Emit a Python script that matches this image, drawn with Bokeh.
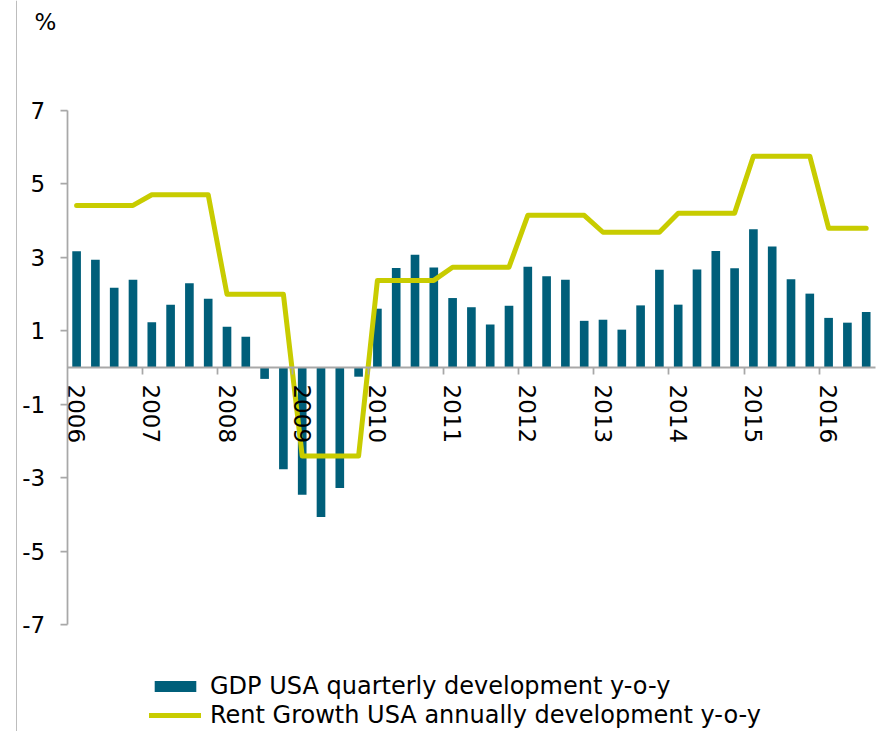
from bokeh.plotting import figure
from bokeh.models import (LinearAxis, FixedTicker, Span, Label, Range1d,
                          Legend, LegendItem, ColumnDataSource)
from bokeh.embed import file_html
from bokeh.resources import INLINE

# ---------------- data ----------------
years = ["2006", "2007", "2008", "2009", "2010", "2011",
         "2012", "2013", "2014", "2015", "2016"]

# GDP USA quarterly development y-o-y (%), 2006Q1 .. 2016Q3
gdp = [3.16, 2.93, 2.17, 2.39,
       1.23, 1.71, 2.29, 1.87,
       1.11, 0.84, -0.31, -2.77,
       -3.46, -4.07, -3.28, -0.25,
       1.60, 2.71, 3.07, 2.72,
       1.89, 1.64, 1.17, 1.68,
       2.74, 2.48, 2.39, 1.27,
       1.30, 1.03, 1.69, 2.66,
       1.71, 2.67, 3.17, 2.70,
       3.76, 3.29, 2.40, 2.01,
       1.35, 1.22, 1.51]

# Rent Growth USA annually development y-o-y (%), shown per quarter
rent = [4.41, 4.41, 4.41, 4.41,
        4.70, 4.70, 4.70, 4.70,
        1.99, 1.99, 1.99, 1.99,
        -2.41, -2.41, -2.41, -2.41,
        2.37, 2.37, 2.37, 2.37,
        2.73, 2.73, 2.73, 2.73,
        4.14, 4.14, 4.14, 4.14,
        3.68, 3.68, 3.68, 3.68,
        4.20, 4.20, 4.20, 4.20,
        5.75, 5.75, 5.75, 5.75,
        3.79, 3.79, 3.79]

y_ticks = [-7, -5, -3, -1, 1, 3, 5, 7]
y_tick_labels = ["-7", "-5", "-3", "-1", "1", "3", "5", "7"]

gdp_label = "GDP USA quarterly development y-o-y"
rent_label = "Rent Growth USA annually development y-o-y"

# ---------------- styling / layout ----------------
FONT = "DejaVu Sans"
TEAL = "#005F7A"
LIME = "#C8CC00"
GREY = "#A8A8A8"

W, H = 876, 731
X0, DX = 66.7, 18.8     # px position of first category boundary, px per category
Y0, DY = 367.0, 36.75   # px position of zero, px per unit

n = len(gdp)
xs = list(range(n))
src = ColumnDataSource(dict(x=xs, gdp=gdp, rent=rent))

def px_x(px):
    return (px - X0) / DX - 0.5

def px_y(py):
    return (Y0 - py) / DY

p = figure(width=W, height=H, output_backend="svg", toolbar_location=None,
           x_range=Range1d(px_x(0), px_x(W)),
           y_range=Range1d(px_y(H), px_y(0)),
           x_axis_type=None, y_axis_type=None, min_border=0,
           outline_line_color=None, background_fill_color="white",
           border_fill_color="white")

# left border line of the chart area
p.add_layout(Span(location=px_x(16), dimension="height",
                  line_color="#BDBDBD", line_width=1))

bars = p.vbar(x="x", top="gdp", bottom=0, width=0.46, source=src,
              fill_color=TEAL, line_color=None)
line = p.line(x="x", y="rent", source=src, line_color=LIME, line_width=5,
              line_join="round", line_cap="round")

# y axis
yaxis = LinearAxis(fixed_location=-0.5, ticker=FixedTicker(ticks=y_ticks),
                   major_label_overrides=dict(zip(y_ticks, y_tick_labels)),
                   bounds=(-7, 7),
                   axis_line_color=GREY, axis_line_width=1.75,
                   major_tick_line_color=GREY, major_tick_line_width=1.75,
                   major_tick_in=0, major_tick_out=7,
                   minor_tick_line_color=None,
                   major_label_text_font=FONT,
                   major_label_text_font_size="23px",
                   major_label_text_color="black",
                   major_label_standoff=15)
p.add_layout(yaxis, "left")

# x axis line + tick marks at year boundaries
xaxis = LinearAxis(fixed_location=0,
                   ticker=FixedTicker(ticks=[4 * k - 0.5 for k in range(1, len(years))]),
                   bounds=(-0.5, n - 0.5),
                   axis_line_color=GREY, axis_line_width=2,
                   major_tick_line_color=GREY, major_tick_line_width=1.75,
                   major_tick_in=0, major_tick_out=7,
                   minor_tick_line_color=None,
                   major_label_text_color=None,
                   major_label_text_font_size="1px")
p.add_layout(xaxis, "below")

# year labels at first quarter of each year
lab_axis = LinearAxis(fixed_location=0,
                      ticker=FixedTicker(ticks=[4 * k for k in range(len(years))]),
                      major_label_overrides={4 * k: y for k, y in enumerate(years)},
                      axis_line_color=None, major_tick_line_color=None,
                      major_tick_in=0, major_tick_out=0,
                      minor_tick_line_color=None,
                      major_label_orientation="vertical",
                      major_label_text_font=FONT,
                      major_label_text_font_size="23px",
                      major_label_text_color="black",
                      major_label_standoff=17)
p.add_layout(lab_axis, "below")

# unit label
p.add_layout(Label(x=px_x(34), y=px_y(21), text="%",
                   text_font=FONT, text_font_size="23px", text_color="black",
                   text_baseline="alphabetic"))

legend = Legend(items=[LegendItem(label=gdp_label, renderers=[bars]),
                       LegendItem(label=rent_label, renderers=[line])],
                location=(149, 2), glyph_width=52, glyph_height=14,
                label_standoff=9, spacing=1, padding=0, margin=0,
                border_line_color=None, background_fill_alpha=0,
                label_text_font=FONT, label_text_font_size="24px",
                label_text_color="black")
p.add_layout(legend)

open("out.html", "w").write(file_html(p, INLINE))
